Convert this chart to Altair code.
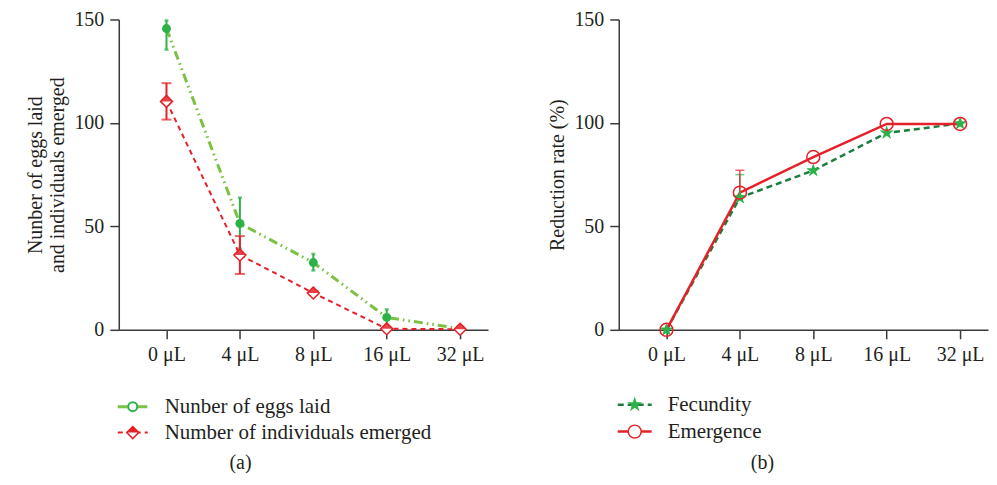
import altair as alt
import pandas as pd

# ---------------- data ----------------
conc_labels = ["0 μL", "4 μL", "8 μL", "16 μL", "32 μL"]
conc_idx = [0, 1, 2, 3, 4]

eggs_name = "Nunber of eggs laid"
eggs_mean = [145.6, 51.4, 32.5, 6.0, 0.6]
eggs_lo = [135.4, 39.2, 28.7, 2.0, 0.2]
eggs_hi = [149.5, 63.9, 36.7, 9.9, 1.0]

emer_name = "Number of individuals emerged"
emer_mean = [110.4, 36.2, 17.8, 0.5, 0.3]
emer_lo = [101.6, 27.0, 17.0, 0.0, 0.0]
emer_hi = [119.2, 45.3, 18.6, 1.0, 0.6]

fec_name = "Fecundity"
fec_mean = [0.0, 63.9, 77.0, 95.2, 99.7]
fec_err_idx = [1]
fec_err_hi = [75.0]

emg_name = "Emergence"
emg_mean = [0.0, 66.3, 83.5, 99.5, 99.5]
emg_err_idx = [1]
emg_err_hi = [77.1]

y_ticks = [0, 50, 100, 150]

# ---------------- style ----------------
FONT = "Liberation Serif"
FS = 20
FS_LEG = 21
LIGHT_GREEN = "#7BC143"
GREEN = "#2DB24A"
DARK_GREEN = "#1B7D3E"
RED = "#E42128"
TXT = "#231F20"
W, H = 370, 311

STAR = ("M0,-1L0.2245,-0.309L0.951,-0.309L0.363,0.118L0.588,0.809L0,0.382"
        "L-0.588,0.809L-0.363,0.118L-0.951,-0.309L-0.2245,-0.309Z")
DIAMOND = "M0,-1L1,0L0,1L-1,0Z"
HALF_DIAMOND = "M-1,0L0,-1L1,0Z"

label_expr = "[" + ",".join("'%s'" % l for l in conc_labels) + "][datum.value]"


def x_enc():
    return alt.X(
        "idx:Q",
        scale=alt.Scale(domain=[-0.65, 4.38], nice=False, zero=False),
        axis=alt.Axis(values=conc_idx, labelExpr=label_expr, title=None, grid=False),
    )


def y_enc(field, title):
    return alt.Y(
        field + ":Q",
        scale=alt.Scale(domain=[0, 150], nice=False, zero=True),
        axis=alt.Axis(values=y_ticks, title=title, grid=False, titlePadding=6),
    )


def legend_item(name, y, line_kw, pt_kws, x0=-1, x1=29, xm=14, xt=46):
    base = alt.Chart(pd.DataFrame({"name": [name]}))
    layers = [base.mark_rule(**line_kw).encode(x=alt.value(x0), x2=alt.value(x1), y=alt.value(y))]
    for kw in pt_kws:
        layers.append(base.mark_point(**kw).encode(x=alt.value(xm), y=alt.value(y)))
    layers.append(
        base.mark_text(align="left", baseline="middle", fontSize=FS_LEG, color=TXT).encode(
            x=alt.value(xt), y=alt.value(y), text="name:N"
        )
    )
    return layers


def caption(txt, x, y):
    return alt.Chart(pd.DataFrame({"t": [txt]})).mark_text(
        align="center", baseline="middle", fontSize=FS, color=TXT
    ).encode(x=alt.value(x), y=alt.value(y), text="t:N")


# ---------------- panel (a) ----------------
dfa = pd.DataFrame({
    "idx": conc_idx, "eggs": eggs_mean, "eggs_lo": eggs_lo, "eggs_hi": eggs_hi,
    "emer": emer_mean, "emer_lo": emer_lo, "emer_hi": emer_hi,
})
ba = alt.Chart(dfa)
ytitle_a = ["Nunber of eggs laid", "and individuals emerged"]

eggs_line = ba.mark_line(color=LIGHT_GREEN, strokeWidth=3, strokeDash=[9, 4, 1.6, 4, 1.6, 4]).encode(
    x=x_enc(), y=y_enc("eggs", ytitle_a))
emer_line = ba.mark_line(color=RED, strokeWidth=2, strokeDash=[5, 4]).encode(x="idx:Q", y="emer:Q")

eggs_err = ba.mark_rule(color=GREEN, strokeWidth=2).encode(x="idx:Q", y="eggs_lo:Q", y2="eggs_hi:Q")
eggs_cap_lo = ba.mark_tick(color=GREEN, orient="horizontal", size=4, thickness=2.5).encode(x="idx:Q", y="eggs_lo:Q")
eggs_cap_hi = ba.mark_tick(color=GREEN, orient="horizontal", size=4, thickness=2.5).encode(x="idx:Q", y="eggs_hi:Q")
emer_err = ba.mark_rule(color=RED, strokeWidth=2).encode(x="idx:Q", y="emer_lo:Q", y2="emer_hi:Q")
emer_cap_lo = ba.mark_tick(color=RED, orient="horizontal", size=10, thickness=2).encode(x="idx:Q", y="emer_lo:Q")
emer_cap_hi = ba.mark_tick(color=RED, orient="horizontal", size=10, thickness=2).encode(x="idx:Q", y="emer_hi:Q")

eggs_pts = ba.mark_point(shape="circle", filled=True, color=GREEN, size=81, opacity=1).encode(x="idx:Q", y="eggs:Q")
emer_pts = ba.mark_point(shape=DIAMOND, filled=True, fill="white", stroke=RED, size=144, strokeWidth=1.5,
                         opacity=1).encode(x="idx:Q", y="emer:Q")
emer_half = ba.mark_point(shape=HALF_DIAMOND, filled=True, color=RED, size=144, opacity=0.85).encode(
    x="idx:Q", y="emer:Q")

leg_a = legend_item(
    eggs_name, 388,
    dict(color=LIGHT_GREEN, strokeWidth=3, strokeDash=[10, 4, 1.6, 4]),
    [dict(shape="circle", filled=True, fill="white", stroke=GREEN, strokeWidth=2, size=81, opacity=1)],
) + legend_item(
    emer_name, 414,
    dict(color=RED, strokeWidth=2, strokeDash=[5, 4]),
    [dict(shape=DIAMOND, filled=True, fill="white", stroke=RED, strokeWidth=1.5, size=144, opacity=1),
     dict(shape=HALF_DIAMOND, filled=True, color=RED, size=144, opacity=1)],
)

panel_a = alt.layer(
    eggs_line, emer_line,
    eggs_err, eggs_cap_lo, eggs_cap_hi,
    emer_err, emer_cap_lo, emer_cap_hi,
    eggs_pts, emer_pts, emer_half,
    *leg_a,
    caption("(a)", 122, 444),
).properties(width=W, height=H)

# ---------------- panel (b) ----------------
dfb = pd.DataFrame({"idx": conc_idx, "fec": fec_mean, "emg": emg_mean})
bb = alt.Chart(dfb)

fec_line = bb.mark_line(color=DARK_GREEN, strokeWidth=2.5, strokeDash=[6, 4]).encode(
    x=x_enc(), y=y_enc("fec", "Reduction rate (%)"))
emg_line = bb.mark_line(color=RED, strokeWidth=2.5).encode(x="idx:Q", y="emg:Q")

dfe_f = pd.DataFrame({"idx": fec_err_idx, "lo": [fec_mean[i] for i in fec_err_idx], "hi": fec_err_hi})
dfe_e = pd.DataFrame({"idx": emg_err_idx, "lo": [emg_mean[i] for i in emg_err_idx], "hi": emg_err_hi})
fec_rule = alt.Chart(dfe_f).mark_rule(color=GREEN, strokeWidth=1.2).encode(x="idx:Q", y="lo:Q", y2="hi:Q")
fec_cap = alt.Chart(dfe_f).mark_tick(color=GREEN, orient="horizontal", size=9, thickness=1.5).encode(x="idx:Q", y="hi:Q")
emg_rule = alt.Chart(dfe_e).mark_rule(color=RED, strokeWidth=1.2).encode(x="idx:Q", y="lo:Q", y2="hi:Q")
emg_cap = alt.Chart(dfe_e).mark_tick(color=RED, orient="horizontal", size=9, thickness=1.5).encode(x="idx:Q", y="hi:Q")

fec_pts = bb.mark_point(shape=STAR, filled=True, color=GREEN, size=225, opacity=1).encode(x="idx:Q", y="fec:Q")
emg_pts = bb.mark_point(shape="circle", filled=False, color=RED, size=169, strokeWidth=1.5, opacity=1).encode(
    x="idx:Q", y="emg:Q")

leg_b = legend_item(
    fec_name, 386,
    dict(color=DARK_GREEN, strokeWidth=2.5, strokeDash=[6, 4]),
    [dict(shape=STAR, filled=True, color=GREEN, size=260, opacity=1)],
    x0=-1, x1=33, xm=16, xt=49,
) + legend_item(
    emg_name, 413,
    dict(color=RED, strokeWidth=2.5),
    [dict(shape="circle", filled=True, fill="white", stroke=RED, strokeWidth=1.5, size=169, opacity=1)],
    x0=-1, x1=33, xm=16, xt=49,
)

panel_b = alt.layer(
    fec_line, emg_line,
    fec_rule, fec_cap, emg_rule, emg_cap,
    fec_pts, emg_pts,
    *leg_b,
    caption("(b)", 144, 444),
).properties(width=W, height=H)

chart = (
    alt.hconcat(panel_a, panel_b, spacing=58)
    .properties(padding={"left": 17, "top": 0, "right": 0, "bottom": 0})
    .configure(font=FONT)
    .configure_view(stroke="transparent")
    .configure_axis(
        domainColor="#3A3A3A",
        domainWidth=1.5,
        tickColor="#3A3A3A",
        tickWidth=1.5,
        tickSize=9,
        labelFontSize=FS,
        labelColor=TXT,
        labelPadding=6,
        titleFontSize=FS,
        titleFontWeight="normal",
        titleColor=TXT,
    )
)

chart.save("out.html", embed_options={"renderer": "svg", "actions": False})
